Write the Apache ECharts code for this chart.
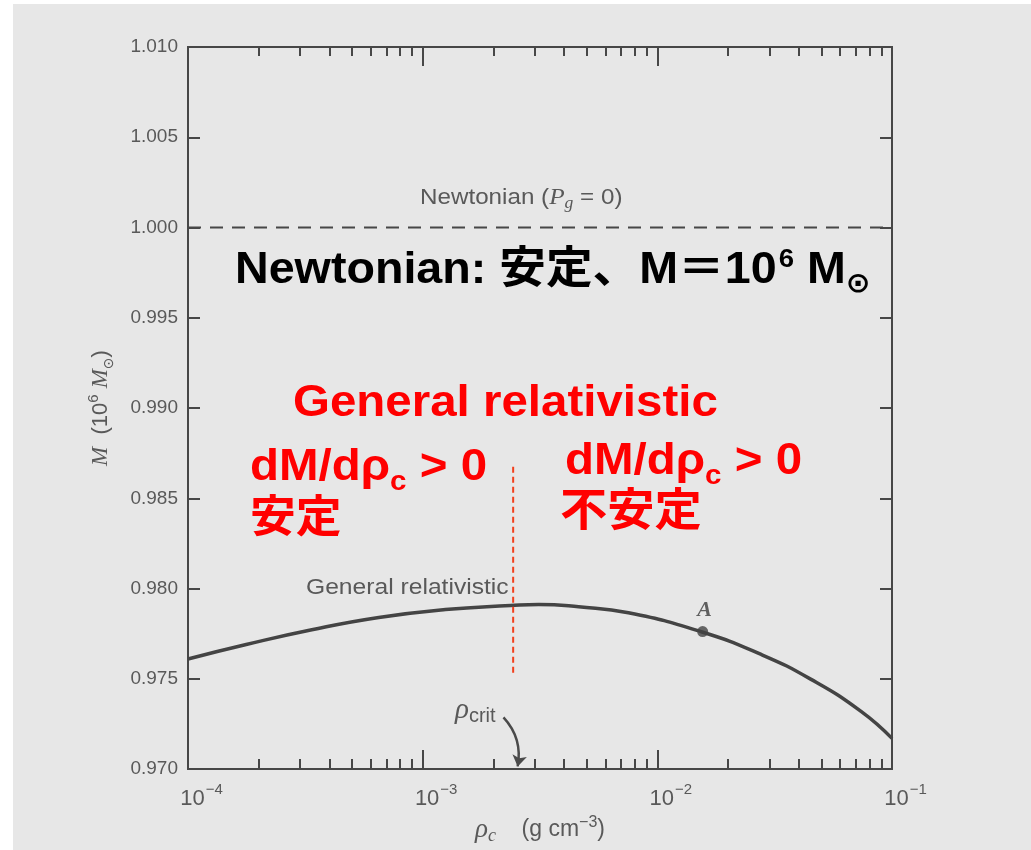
<!DOCTYPE html>
<html><head><meta charset="utf-8">
<script src="https://cdn.jsdelivr.net/npm/echarts@6/dist/echarts.min.js"></script>
<style>html,body{margin:0;padding:0;background:#fff}#c{width:1031px;height:850px}</style>
</head><body><div id="c"></div>
<script>
// General relativistic curve: central density (g cm^-3) vs mass (10^6 Msun)
const rhoGR  = [1e-4, 1.77e-4, 3.37e-4, 6.5e-4, 1.25e-3, 2.37e-3, 3.12e-3, 4.62e-3, 7.53e-3, 1.54e-2, 2.77e-2, 4.52e-2, 7.38e-2, 1e-1];
const massGR = [0.9761, 0.9769, 0.97772, 0.97840, 0.97884, 0.97906, 0.97912, 0.97899, 0.97866, 0.97761, 0.97635, 0.97497, 0.9732, 0.9717];
// Newtonian (Pg = 0)
const rhoNewton  = [1e-4, 1e-1];
const massNewton = [1.000, 1.000];
// Point A
const rhoA = 0.0156, massA = 0.97762;
// red dashed divider at rho_crit
const rhoDivider  = [2.43e-3, 2.43e-3];
const massDivider = [0.98675, 0.97515];
// rho_crit arrow
const arrowRho  = [2.21e-3, 2.54e-3];
const arrowMass = [0.97287, 0.97015];
// axes
const xMin = 1e-4, xMax = 1e-1;
const xMajorTicks = [1e-4, 1e-3, 1e-2, 1e-1];
const xMinorTicks = [2e-4,3e-4,4e-4,5e-4,6e-4,7e-4,8e-4,9e-4,
                     2e-3,3e-3,4e-3,5e-3,6e-3,7e-3,8e-3,9e-3,
                     2e-2,3e-2,4e-2,5e-2,6e-2,7e-2,8e-2,9e-2];
const xTickExponents = ['−4', '−3', '−2', '−1'];
const yMin = 0.970, yMax = 1.010, yStep = 0.005;

const AX = '#474747', TX = '#595959';
const SANS = "'Liberation Sans', Arial, 'Noto Sans CJK JP', sans-serif";
const BOLD = "'Liberation Sans', Arial, 'Noto Sans CJK JP', sans-serif";
const SERIF = "'Liberation Serif', 'DejaVu Serif', serif";

const chart = echarts.init(document.getElementById('c'), null, {renderer: 'canvas'});

function expLabel(v) {
  const i = xMajorTicks.findIndex(t => Math.abs(Math.log10(t) - Math.log10(v)) < 1e-6);
  if (i < 0) return '';
  return '{b|10}{s|' + xTickExponents[i] + '}';
}

const baseX = {
  type: 'log', logBase: 10, min: xMin, max: xMax, gridIndex: 0,
  axisLine: {show: true, lineStyle: {color: AX, width: 2}},
  splitLine: {show: false}, minorTick: {show: false}, minorSplitLine: {show: false}
};

const redRich = {
  t: {fontFamily: BOLD, fontWeight: 'bold', fontSize: 45, fill: '#ff0000', lineHeight: 56, verticalAlign: 'middle'},
  c: {fontFamily: BOLD, fontWeight: 'bold', fontSize: 28, fill: '#ff0000', lineHeight: 56, verticalAlign: 'bottom'}
};

const option = {
  backgroundColor: '#e7e7e7',
  animation: false,
  grid: {left: 188, right: 139, top: 47, bottom: 80, containLabel: false},
  xAxis: [
    Object.assign({}, baseX, {
      position: 'bottom',
      axisTick: {show: true, inside: true, length: 19, lineStyle: {color: AX, width: 2}, customValues: xMajorTicks},
      axisLabel: {show: true, margin: 13, customValues: xMajorTicks, formatter: expLabel,
        rich: {
          b: {fontFamily: SANS, fontSize: 22, color: TX, verticalAlign: 'bottom', lineHeight: 28, padding: [0,0,0,27]},
          s: {fontFamily: SANS, fontSize: 15, color: TX, verticalAlign: 'top', lineHeight: 28, padding: [0,0,0,1]}
        }},
      name: '{r|ρ}{c|c}{t|    (g cm}{s|−3}{t|)}', nameLocation: 'middle', nameGap: 40,
      nameTextStyle: {padding: [0,0,0,0], rich: {
        r: {fontFamily: SERIF, fontStyle: 'italic', fontSize: 27, color: TX, lineHeight: 30, verticalAlign: 'middle'},
        c: {fontFamily: SERIF, fontStyle: 'italic', fontSize: 18, color: TX, lineHeight: 30, verticalAlign: 'bottom'},
        t: {fontFamily: SANS, fontSize: 23, color: TX, lineHeight: 30, verticalAlign: 'middle'},
        s: {fontFamily: SANS, fontSize: 16, color: TX, lineHeight: 30, verticalAlign: 'top'}
      }}
    }),
    Object.assign({}, baseX, {
      position: 'bottom',
      axisTick: {show: true, inside: true, length: 10, lineStyle: {color: AX, width: 2}, customValues: xMinorTicks},
      axisLabel: {show: false}
    }),
    Object.assign({}, baseX, {
      position: 'top',
      axisTick: {show: true, inside: true, length: 19, lineStyle: {color: AX, width: 2}, customValues: xMajorTicks},
      axisLabel: {show: false}
    }),
    Object.assign({}, baseX, {
      position: 'top',
      axisTick: {show: true, inside: true, length: 9, lineStyle: {color: AX, width: 2}, customValues: xMinorTicks},
      axisLabel: {show: false}
    })
  ],
  yAxis: [
    {
      type: 'value', min: yMin, max: yMax, interval: yStep, position: 'left',
      axisLine: {show: true, lineStyle: {color: AX, width: 2}},
      axisTick: {show: true, inside: true, length: 12, lineStyle: {color: AX, width: 2}},
      splitLine: {show: false},
      axisLabel: {show: true, margin: 10, fontFamily: SANS, fontSize: 19, color: TX,
        formatter: v => v.toFixed(3)},
      name: '{i|M}{t|  (10}{s|6}{t| }{i|M}{o|⊙}{t|)}', nameLocation: 'middle', nameGap: 72,
      nameTextStyle: {rich: {
        i: {fontFamily: SERIF, fontStyle: 'italic', fontSize: 23, color: TX, lineHeight: 30, verticalAlign: 'middle'},
        t: {fontFamily: SANS, fontSize: 22, color: TX, lineHeight: 30, verticalAlign: 'middle'},
        s: {fontFamily: SANS, fontSize: 15, color: TX, lineHeight: 30, verticalAlign: 'top'},
        o: {fontFamily: "'DejaVu Sans', sans-serif", fontSize: 14, color: TX, lineHeight: 30, verticalAlign: 'bottom'}
      }}
    },
    {
      type: 'value', min: yMin, max: yMax, interval: yStep, position: 'right',
      axisLine: {show: true, lineStyle: {color: AX, width: 2}},
      axisTick: {show: true, inside: true, length: 12, lineStyle: {color: AX, width: 2}},
      splitLine: {show: false},
      axisLabel: {show: false}
    }
  ],
  series: [
    {
      name: 'Newtonian', type: 'line', xAxisIndex: 0, yAxisIndex: 0,
      data: rhoNewton.map((r, i) => [r, massNewton[i]]),
      showSymbol: false, lineStyle: {color: AX, width: 2, type: [13, 9]}, z: 3
    },
    {
      name: 'General relativistic', type: 'line', xAxisIndex: 0, yAxisIndex: 0,
      data: rhoGR.map((r, i) => [r, massGR[i]]),
      smooth: 0.5, showSymbol: false, lineStyle: {color: '#444', width: 3.5}, z: 3
    },
    {
      name: 'A', type: 'scatter', xAxisIndex: 0, yAxisIndex: 0,
      data: [[rhoA, massA]], symbolSize: 11, itemStyle: {color: '#444'},
      label: {show: true, formatter: 'A', position: 'top', distance: 5, offset: [2, 0],
        fontFamily: SERIF, fontStyle: 'italic', fontWeight: 'bold', fontSize: 22, color: '#3c3c3c'}, z: 4
    },
    {
      name: 'divider', type: 'line', xAxisIndex: 0, yAxisIndex: 0,
      data: rhoDivider.map((r, i) => [r, massDivider[i]]),
      showSymbol: false, lineStyle: {color: '#f2401d', width: 2, type: [6, 4]}, z: 5
    },
    {
      name: 'arrow', type: 'lines', coordinateSystem: 'cartesian2d', xAxisIndex: 0, yAxisIndex: 0,
      data: [{coords: [[arrowRho[0], arrowMass[0]], [arrowRho[1], arrowMass[1]]]}],
      symbol: ['none', 'arrow'], symbolSize: [0, 11],
      lineStyle: {color: '#4a4a4a', width: 2.5, curveness: 0.25, opacity: 1}, z: 4
    }
  ],
  graphic: [
    {type: 'rect', left: 0, top: 0, shape: {width: 13, height: 850}, style: {fill: '#ffffff'}, silent: true},
    {type: 'rect', left: 0, top: 0, shape: {width: 1031, height: 4}, style: {fill: '#ffffff'}, silent: true},
    // gray printed labels
    {type: 'text', x: 420, y: 198, scaleX: 1.1, silent: true, style: {
      text: '{t|Newtonian (}{i|P}{g|g}{t| = 0)}', textVerticalAlign: 'middle',
      rich: {
        t: {fontFamily: SANS, fontSize: 22, fill: TX, lineHeight: 28, verticalAlign: 'middle'},
        i: {fontFamily: SERIF, fontStyle: 'italic', fontSize: 23, fill: TX, lineHeight: 28, verticalAlign: 'middle'},
        g: {fontFamily: SERIF, fontStyle: 'italic', fontSize: 16, fill: TX, lineHeight: 28, verticalAlign: 'bottom'}
      }}},
    {type: 'text', x: 306, y: 588, scaleX: 1.12, silent: true, style: {
      text: 'General relativistic', textVerticalAlign: 'middle',
      font: '22px ' + SANS, fill: TX}},
    {type: 'text', x: 455, y: 710, silent: true, style: {
      text: '{r|ρ}{c|crit}', textVerticalAlign: 'middle',
      rich: {
        r: {fontFamily: SERIF, fontStyle: 'italic', fontSize: 29, fill: TX, lineHeight: 32, verticalAlign: 'middle'},
        c: {fontFamily: SANS, fontSize: 20, fill: TX, lineHeight: 32, verticalAlign: 'bottom'}
      }}},
    // black overlay
    {type: 'text', x: 235, y: 271, scaleX: 1.06, silent: true, style: {
      text: '{t|Newtonian: 安定、M＝10}{s|6}{t| M}{o|⊙}', textVerticalAlign: 'middle',
      rich: {
        t: {fontFamily: BOLD, fontWeight: 'bold', fontSize: 44, fill: '#000', lineHeight: 56, verticalAlign: 'middle'},
        s: {fontFamily: BOLD, fontWeight: 'bold', fontSize: 26, fill: '#000', lineHeight: 56, verticalAlign: 'top', padding: [4,0,0,2]},
        o: {fontFamily: "'DejaVu Sans', sans-serif", fontWeight: 'bold', fontSize: 28, fill: '#000', lineHeight: 56, verticalAlign: 'bottom'}
      }}},
    // red overlays
    {type: 'text', x: 293, y: 404, scaleX: 1.055, silent: true, style: {
      text: 'General relativistic', textVerticalAlign: 'middle',
      font: 'bold 45px ' + BOLD, fill: '#ff0000'}},
    {type: 'text', x: 250, y: 468, scaleX: 1.055, silent: true, style: {
      text: '{t|dM/dρ}{c|c}{t| > 0}', textVerticalAlign: 'middle', rich: redRich}},
    {type: 'text', x: 250, y: 520, scaleX: 1.04, silent: true, style: {
      text: '安定', textVerticalAlign: 'middle',
      font: 'bold 44px ' + BOLD, fill: '#ff0000'}},
    {type: 'text', x: 565, y: 462, scaleX: 1.055, silent: true, style: {
      text: '{t|dM/dρ}{c|c}{t| > 0}', textVerticalAlign: 'middle', rich: redRich}},
    {type: 'text', x: 560, y: 514, scaleX: 1.05, silent: true, style: {
      text: '不安定', textVerticalAlign: 'middle',
      font: 'bold 45px ' + BOLD, fill: '#ff0000'}}
  ]
};
chart.setOption(option);
</script>
</body></html>
